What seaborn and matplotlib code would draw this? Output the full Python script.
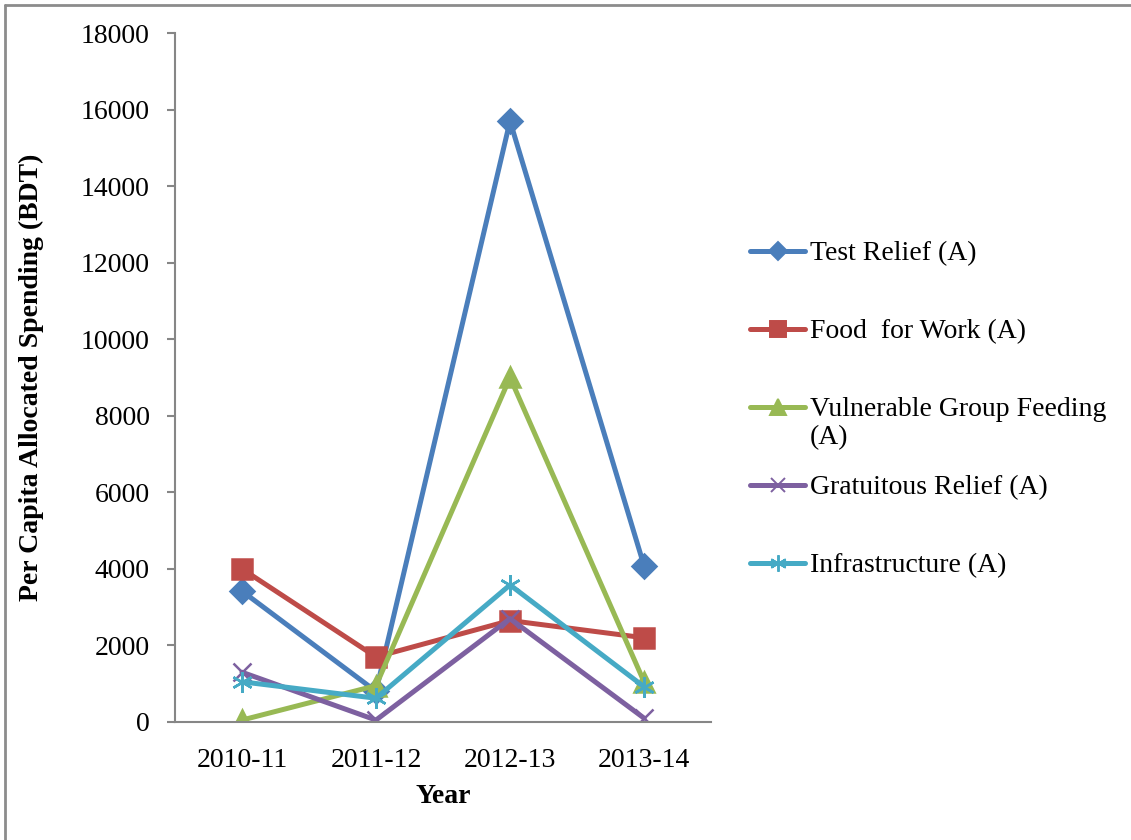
import matplotlib
matplotlib.use("Agg")
import matplotlib.pyplot as plt
from matplotlib.lines import Line2D
import seaborn as sns
import pandas as pd

# Financial years on the category axis
years = ["2010-11", "2011-12", "2012-13", "2013-14"]

# Per capita allocated spending (BDT) for each programme
test_relief = [3420, 800, 15700, 4080]
food_for_work = [4000, 1700, 2650, 2200]
vulnerable_group_feeding = [50, 950, 9000, 1050]
gratuitous_relief = [1300, 50, 2700, 100]
infrastructure = [1050, 620, 3580, 920]

series_names = [
    "Test Relief (A)",
    "Food  for Work (A)",
    "Vulnerable Group Feeding\n(A)",
    "Gratuitous Relief (A)",
    "Infrastructure (A)",
]
series_values = [test_relief, food_for_work, vulnerable_group_feeding,
                 gratuitous_relief, infrastructure]

y_ticks = [0, 2000, 4000, 6000, 8000, 10000, 12000, 14000, 16000, 18000]

colors = ["#4A7EBB", "#BE4B48", "#98B954", "#7D60A0", "#46AAC5"]
markers = ["D", "s", "^", "x", (6, 2, 0)]
marker_sizes = [12, 14, 14, 13, 15]

rows = []
for name, vals in zip(series_names, series_values):
    for yr, v in zip(years, vals):
        rows.append({"Year": yr, "Value": v, "Series": name})
df = pd.DataFrame(rows)

sns.set_theme(style="white")
plt.rcParams["font.family"] = ["Liberation Serif", "DejaVu Serif"]

FS = 20
LW = 3.6

fig = plt.figure(figsize=(11.31, 8.4), dpi=100)
ax = fig.add_axes([0.1547, 0.1405, 0.474, 0.8202])

for i, name in enumerate(series_names):
    sub = df[df["Series"] == name]
    sns.lineplot(
        data=sub, x="Year", y="Value", ax=ax, color=colors[i],
        linewidth=LW, marker=markers[i], markersize=marker_sizes[i],
        markeredgecolor=colors[i], markerfacecolor=colors[i],
        markeredgewidth=1.8, sort=False, legend=False,
    )

ax.set_xlim(-0.5, 3.5)
ax.set_ylim(0, 18000)
ax.set_yticks(y_ticks)
ax.set_yticklabels([str(t) for t in y_ticks])

for side in ["top", "right"]:
    ax.spines[side].set_visible(False)
for side in ["left", "bottom"]:
    ax.spines[side].set_color("#868686")
    ax.spines[side].set_linewidth(1.5)

ax.tick_params(axis="y", which="major", left=True, length=6, width=1.5,
               color="#868686", labelsize=FS, pad=12, direction="out")
ax.tick_params(axis="x", bottom=False, labelsize=FS, pad=13)
for lab in ax.get_yticklabels() + ax.get_xticklabels():
    lab.set_color("black")

ax.set_xlabel("Year", fontsize=FS, fontweight="bold", labelpad=8, color="black")
ax.set_ylabel("Per Capita Allocated Spending (BDT)", fontsize=FS,
              fontweight="bold", color="black")
ax.yaxis.set_label_coords(-0.245, 0.5)

# Legend entries: handle line with marker, label to its right
W, H = fig.get_size_inches() * fig.dpi
entry_y = [251, 329, 407, 485, 563]
for c, m, ms, name, yy in zip(colors, markers, marker_sizes, series_names, entry_y):
    yf = 1 - yy / H
    fig.add_artist(Line2D([750 / W, 805 / W], [yf, yf], transform=fig.transFigure,
                          color=c, linewidth=LW, solid_capstyle="round"))
    fig.add_artist(Line2D([777.5 / W], [yf], transform=fig.transFigure,
                          color=c, marker=m, markersize=ms * 0.8,
                          markerfacecolor=c, markeredgecolor=c,
                          markeredgewidth=1.4, linestyle="none"))
    fig.text(810 / W, 1 - (yy - 10) / H, name, fontsize=FS, color="black",
             ha="left", va="top", linespacing=1.15)

# Outer frame lines of the figure
fig.add_artist(Line2D([0.004, 0.004], [0.0, 0.994], transform=fig.transFigure,
                      color="#8c8c8c", linewidth=2))
fig.add_artist(Line2D([0.004, 1.0], [0.994, 0.994], transform=fig.transFigure,
                      color="#8c8c8c", linewidth=2))

fig.savefig("out.png", dpi=100)
